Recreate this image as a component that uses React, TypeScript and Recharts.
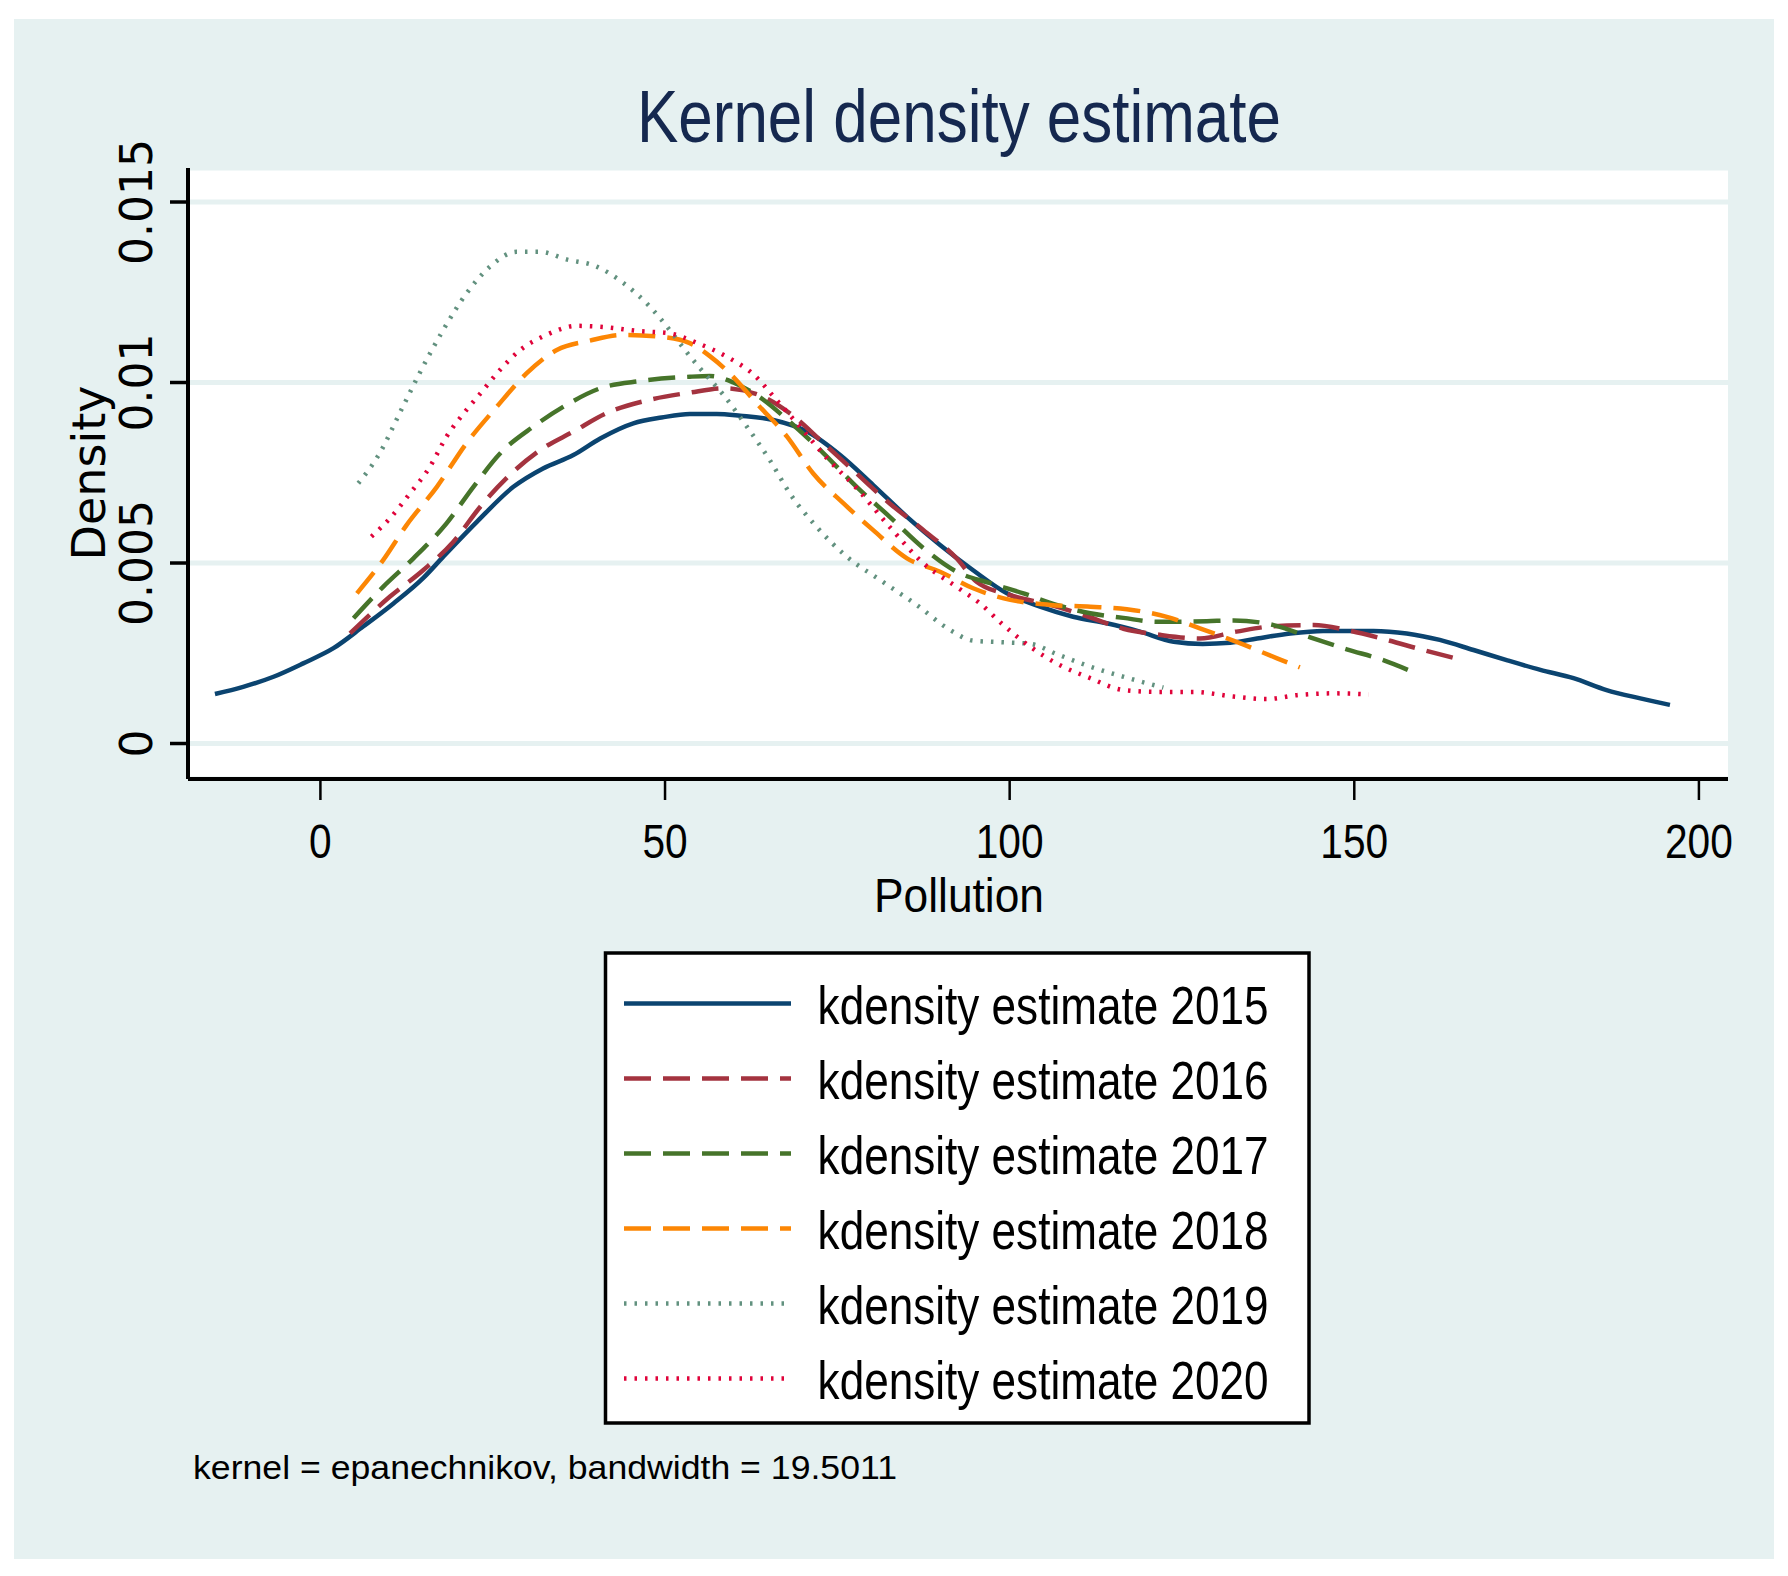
import React from 'react';
import { LineChart, Line, XAxis, YAxis, CartesianGrid } from 'recharts';

const W = 1788;
const H = 1576;
const BG = '#e6f1f1';
const SANS = '"Liberation Sans", Arial, sans-serif';
const WIDE = '"DejaVu Sans", sans-serif';

// axis ticks
const xTicks = [0, 50, 100, 150, 200];
const yTicks = [0, 0.005, 0.01, 0.015];
const yTickLabels = ['0', '0.005', '0.01', '0.015'];

// kernel density curves, [pollution, density]
const kd2015: [number, number][] = [
  [-15.3, 0.00137], [-11.2, 0.00157], [-6.8, 0.00185], [-2.5, 0.00222], [1.9, 0.00264],
  [6.2, 0.00324], [10.6, 0.00388], [14.9, 0.00458], [17.8, 0.00517], [22.7, 0.00614],
  [28.0, 0.00711], [32.3, 0.00762], [36.7, 0.00799], [40.6, 0.00845], [45.4, 0.00887],
  [49.5, 0.00903], [53.6, 0.00913], [57.5, 0.00913], [60.9, 0.00908], [65.7, 0.00896],
  [70.6, 0.00864], [75.4, 0.00799], [80.2, 0.00716], [85.1, 0.00628], [89.9, 0.0055],
  [94.7, 0.0048], [99.6, 0.00416], [104.4, 0.00379], [109.2, 0.00351], [114.1, 0.00333],
  [118.9, 0.0031], [123.8, 0.00282], [128.0, 0.00276], [132.0, 0.00279], [135.9, 0.00291],
  [140.7, 0.00305], [145.5, 0.00312], [152.8, 0.00312], [157.6, 0.00305], [162.4, 0.00287],
  [167.3, 0.00259], [172.1, 0.00231], [177.0, 0.00204], [181.8, 0.00181], [186.6, 0.00148],
  [191.5, 0.00125], [195.8, 0.00107],
];
const kd2016: [number, number][] = [
  [4.3, 0.00305], [10.1, 0.00407], [14.9, 0.0048], [19.3, 0.00559], [23.2, 0.00656],
  [27.0, 0.00735], [31.9, 0.00813], [36.7, 0.00864], [41.5, 0.00915], [47.3, 0.0095],
  [53.6, 0.00972], [58.5, 0.00984], [63.3, 0.00968], [68.1, 0.00915], [73.0, 0.00832],
  [77.8, 0.00748], [82.6, 0.00665], [87.5, 0.00591], [92.3, 0.00513], [95.2, 0.00448],
  [100.1, 0.00411], [105.9, 0.00384], [110.7, 0.00356], [116.5, 0.00318], [121.8, 0.00301],
  [127.6, 0.00291], [132.9, 0.0031], [138.3, 0.00325], [144.1, 0.00328], [149.4, 0.00312],
  [154.7, 0.00287], [160.0, 0.00259], [164.9, 0.00235],
];
const kd2017: [number, number][] = [
  [4.8, 0.00347], [9.1, 0.00434], [13.5, 0.00513], [18.3, 0.0061], [22.2, 0.00711],
  [26.1, 0.00804], [30.9, 0.00878], [35.7, 0.00938], [40.6, 0.00984], [46.4, 0.01004],
  [53.6, 0.01016], [56.5, 0.01018], [59.9, 0.01], [63.3, 0.00965], [68.1, 0.00891],
  [73.0, 0.00804], [77.8, 0.00711], [82.6, 0.00628], [87.5, 0.00541], [92.3, 0.00476],
  [97.2, 0.00444], [102.0, 0.00416], [106.8, 0.00384], [111.7, 0.00361], [116.5, 0.00348],
  [121.3, 0.00337], [128.6, 0.00339], [132.5, 0.00341], [138.3, 0.00328], [143.6, 0.00294],
  [148.9, 0.00261], [154.2, 0.00231], [159.0, 0.00194],
];
const kd2018: [number, number][] = [
  [5.3, 0.00416], [9.1, 0.00508], [12.5, 0.00605], [16.9, 0.00711], [21.2, 0.00832],
  [25.6, 0.00933], [29.9, 0.01025], [34.3, 0.0109], [39.1, 0.01116], [44.0, 0.01132],
  [50.2, 0.01125], [53.6, 0.01109], [56.5, 0.01073], [59.4, 0.01025], [63.3, 0.00942],
  [67.7, 0.0085], [71.5, 0.00748], [75.9, 0.00665], [80.2, 0.00591], [85.1, 0.00513],
  [89.9, 0.00476], [94.7, 0.0043], [100.1, 0.00398], [105.9, 0.00384], [111.7, 0.00379],
  [117.0, 0.00372], [122.8, 0.00351], [127.6, 0.00319], [133.4, 0.00278], [138.8, 0.00236],
  [142.1, 0.00211],
];
const kd2019: [number, number][] = [
  [5.5, 0.00721], [8.6, 0.00804], [11.5, 0.00915], [14.5, 0.0103], [17.8, 0.01145],
  [21.2, 0.01247], [24.6, 0.01321], [28.5, 0.01362], [31.9, 0.01362], [35.7, 0.01341],
  [40.1, 0.01321], [44.0, 0.01275], [47.8, 0.0121], [50.7, 0.01145], [53.1, 0.01085],
  [55.1, 0.01039], [58.5, 0.00965], [61.9, 0.00877], [65.2, 0.00785], [68.1, 0.00693],
  [72.0, 0.006], [76.4, 0.00517], [81.2, 0.00453], [86.5, 0.00384], [91.4, 0.00314],
  [94.7, 0.00285], [99.6, 0.0028], [103.0, 0.00276], [106.8, 0.00248], [111.7, 0.00213],
  [116.5, 0.00185], [122.3, 0.00155],
];
const kd2020: [number, number][] = [
  [7.4, 0.00573], [10.1, 0.00624], [13.0, 0.00693], [15.9, 0.00767], [18.3, 0.0085],
  [21.2, 0.00924], [23.4, 0.00974], [25.6, 0.01025], [29.0, 0.0109], [32.8, 0.01132],
  [37.2, 0.01157], [41.5, 0.01153], [45.9, 0.01143], [50.7, 0.01136], [54.6, 0.0111],
  [59.0, 0.01071], [62.8, 0.01023], [66.2, 0.00951], [69.6, 0.00877], [73.5, 0.0079],
  [77.8, 0.00707], [82.6, 0.006], [87.5, 0.00499], [92.3, 0.00434], [95.7, 0.00388],
  [99.1, 0.00328], [103.0, 0.00268], [106.8, 0.00222], [111.7, 0.00181], [116.5, 0.00148],
  [121.3, 0.00143], [126.7, 0.00143], [132.5, 0.0013], [137.3, 0.00123], [141.7, 0.00134],
  [147.0, 0.00139], [152.1, 0.00136],
];

const years = ['2015', '2016', '2017', '2018', '2019', '2020'];
const curves = [kd2015, kd2016, kd2017, kd2018, kd2019, kd2020];
const colors = ['#0b4470', '#a4333f', '#46742a', '#fc8604', '#62917f', '#e0033a'];
const dashes = ['', '27 12', '27 12', '27 12', '2.5 8', '2.5 8'];

const series = years.map((yr, i) => ({
  name: `kdensity estimate ${yr}`,
  data: curves[i].map(([x, y]) => ({ x, y })),
  color: colors[i],
  dash: dashes[i],
}));

// plot area in page pixels
const PLOT = { left: 188, top: 168, right: 1728, bottom: 779 };

const XTick = ({ x, y, payload }: any) => (
  <text
    transform={`translate(${x},${y + 58}) scale(0.83,1)`}
    textAnchor="middle"
    fontSize={49}
    fontFamily={SANS}
    fill="#000"
  >
    {payload.value}
  </text>
);

const YTick = ({ x, y, payload }: any) => {
  const idx = yTicks.indexOf(payload.value);
  return (
    <text
      transform={`translate(${x - 18},${y}) rotate(-90)`}
      textAnchor="middle"
      fontSize={44}
      fontFamily={WIDE}
      fill="#000"
    >
      {idx >= 0 ? yTickLabels[idx] : payload.value}
    </text>
  );
};

const legendTop = 1003.5;
const legendStep = 75;

export default function App() {
  return (
    <div style={{ position: 'absolute', left: 0, top: 0, width: W, height: H, background: '#fff' }}>
      <svg width={W} height={H} style={{ position: 'absolute', left: 0, top: 0 }}>
        <rect x={14} y={19} width={1760} height={1540} fill={BG} />
        <text x={637} y={142} fontSize={75} fontFamily={SANS} fill="#15284f" textLength={644} lengthAdjust="spacingAndGlyphs">
          Kernel density estimate
        </text>
        <text transform="translate(105,473) rotate(-90)" textAnchor="middle" fontSize={46} fontFamily={WIDE} fill="#000">
          Density
        </text>
        <text x={874} y={912} fontSize={48} fontFamily={SANS} fill="#000" textLength={170} lengthAdjust="spacingAndGlyphs">
          Pollution
        </text>

        <rect x={605.5} y={953} width={703.5} height={470} fill="#fff" stroke="#000" strokeWidth={3.5} />
        {series.map((s, i) => {
          const ly = legendTop + i * legendStep;
          return (
            <g key={s.name}>
              <line x1={624} x2={791} y1={ly} y2={ly} stroke={s.color} strokeWidth={4.5} strokeDasharray={s.dash || undefined} />
              <text x={817.6} y={ly + 20} fontSize={54} fontFamily={SANS} fill="#000" textLength={451} lengthAdjust="spacingAndGlyphs">
                {s.name}
              </text>
            </g>
          );
        })}

        <text x={193} y={1479} fontSize={34} fontFamily={SANS} fill="#000" textLength={704} lengthAdjust="spacingAndGlyphs">
          kernel = epanechnikov, bandwidth = 19.5011
        </text>
      </svg>

      <div style={{ position: 'absolute', left: 0, top: 0 }}>
        <LineChart
          width={W}
          height={H}
          margin={{ top: PLOT.top, right: W - PLOT.right, bottom: 0, left: 0 }}
        >
          <CartesianGrid vertical={false} fill="#fff" stroke={BG} strokeWidth={5} />
          <XAxis
            type="number"
            dataKey="x"
            domain={[-19.21, 204.22]}
            ticks={xTicks}
            allowDataOverflow
            height={H - PLOT.bottom}
            tickSize={21}
            tickMargin={0}
            axisLine={{ stroke: '#000', strokeWidth: 4 }}
            tickLine={{ stroke: '#000', strokeWidth: 2.5 }}
            tick={<XTick />}
          />
          <YAxis
            type="number"
            dataKey="y"
            domain={[-0.000983, 0.015942]}
            ticks={yTicks}
            allowDataOverflow
            width={PLOT.left}
            tickSize={18}
            tickMargin={0}
            axisLine={{ stroke: '#000', strokeWidth: 4 }}
            tickLine={{ stroke: '#000', strokeWidth: 3.5 }}
            tick={<YTick />}
          />
          {series.map((s) => (
            <Line
              key={s.name}
              data={s.data}
              dataKey="y"
              name={s.name}
              type="monotone"
              stroke={s.color}
              strokeWidth={4.5}
              strokeDasharray={s.dash || undefined}
              strokeLinecap="butt"
              dot={false}
              activeDot={false}
              isAnimationActive={false}
            />
          ))}
        </LineChart>
      </div>
    </div>
  );
}
